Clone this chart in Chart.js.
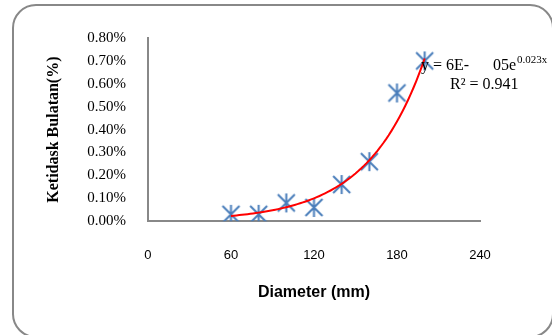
<!DOCTYPE html>
<html>
<head>
<meta charset="utf-8">
<script src="https://cdn.jsdelivr.net/npm/chart.js@4"></script>
<style>
  html, body { margin: 0; padding: 0; background: #fff; overflow: hidden; }
  #wrap { position: relative; width: 552px; height: 335px; overflow: hidden; }
  #frame {
    position: absolute; left: 12px; top: 4px; width: 542px; height: 334px;
    border: 2.5px solid #888; border-radius: 24px; box-sizing: border-box;
  }
  canvas { position: absolute; left: 0; top: 0; }
</style>
</head>
<body>
<div id="wrap">
  <div id="frame"></div>
  <canvas id="chart" width="552" height="335"></canvas>
</div>
<script>
// Diameter (mm) vs ketidakbulatan (%)
const diameter = [60, 80, 100, 120, 140, 160, 180, 200];
const bulatan = [0.03, 0.03, 0.08, 0.06, 0.16, 0.26, 0.56, 0.70];
const xTicks = [0, 60, 120, 180, 240];
const yTicks = [0, 0.1, 0.2, 0.3, 0.4, 0.5, 0.6, 0.7, 0.8];

// exponential trendline, least squares on ln(y) like Excel does
const n = diameter.length;
const lnY = bulatan.map(v => Math.log(v));
const mx = diameter.reduce((a, b) => a + b, 0) / n;
const my = lnY.reduce((a, b) => a + b, 0) / n;
let sxx = 0, sxy = 0;
diameter.forEach((x, i) => { sxx += (x - mx) ** 2; sxy += (x - mx) * (lnY[i] - my); });
const k = sxy / sxx;
const lnA = my - k * mx;
const trend = [];
for (let x = diameter[0]; x <= diameter[n - 1]; x += 2) {
  trend.push({ x: x, y: Math.exp(lnA + k * x) });
}

// asterisk marker (x with a vertical bar)
const mark = document.createElement('canvas');
mark.width = 21; mark.height = 21;
const m = mark.getContext('2d');
m.strokeStyle = '#4a7ebb';
m.lineWidth = 2;
m.beginPath();
m.moveTo(2, 2); m.lineTo(19, 19);
m.moveTo(19, 2); m.lineTo(2, 19);
m.moveTo(10.5, 1); m.lineTo(10.5, 20);
m.stroke();

const equationText = {
  id: 'equationText',
  afterDraw(chart) {
    const c = chart.ctx;
    c.save();
    c.fillStyle = '#000';
    c.textBaseline = 'alphabetic';
    c.font = '16px "Liberation Serif"';
    c.fillText('y = 6E-', 421, 70);
    c.fillText('05e', 493, 70);
    c.font = '11px "Liberation Serif"';
    c.fillText('0.023x', 517, 63);
    c.font = '16px "Liberation Serif"';
    c.fillText('R\u00b2 = 0.941', 450, 89);
    c.restore();
  }
};

new Chart(document.getElementById('chart'), {
  type: 'scatter',
  data: {
    datasets: [
      {
        label: 'Ketidask Bulatan',
        data: diameter.map((x, i) => ({ x: x, y: bulatan[i] })),
        pointStyle: mark,
        pointRadius: 10,
        order: 2
      },
      {
        label: 'Expon.',
        data: trend,
        showLine: true,
        borderColor: '#ff0000',
        borderWidth: 2,
        pointRadius: 0,
        tension: 0,
        order: 1
      }
    ]
  },
  options: {
    responsive: false,
    animation: false,
    layout: { padding: { left: 44, right: 72, top: 38, bottom: 29 } },
    plugins: { legend: { display: false }, tooltip: { enabled: false } },
    scales: {
      x: {
        type: 'linear',
        min: 0, max: 240,
        afterBuildTicks: s => { s.ticks = xTicks.map(v => ({ value: v })); },
        grid: { display: false },
        border: { color: '#888', width: 2 },
        ticks: { color: '#000', padding: 18, font: { family: 'Liberation Sans', size: 13 } },
        title: {
          display: true, text: 'Diameter (mm)', color: '#000',
          font: { family: 'Liberation Sans', size: 16, weight: 'bold' },
          padding: { top: 2 }
        }
      },
      y: {
        min: 0, max: 0.8,
        afterBuildTicks: s => { s.ticks = yTicks.map(v => ({ value: v })); },
        grid: { display: false },
        border: { color: '#888', width: 2 },
        ticks: {
          color: '#000', padding: 14,
          font: { family: 'Liberation Serif', size: 15 },
          callback: v => v.toFixed(2) + '%'
        },
        title: {
          display: true, text: 'Ketidask Bulatan(%)', color: '#000',
          font: { family: 'Liberation Serif', size: 16, weight: 'bold' },
          padding: { top: 0, bottom: 10 }
        }
      }
    }
  },
  plugins: [equationText]
});
</script>
</body>
</html>
